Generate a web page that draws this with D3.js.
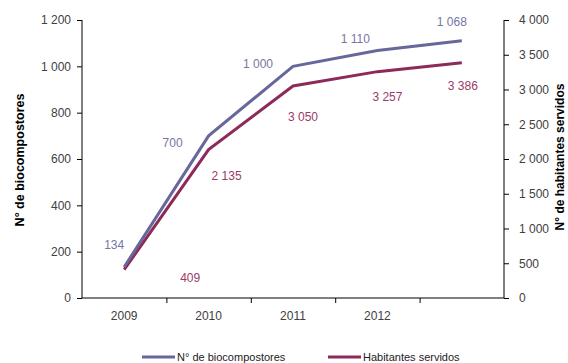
<!DOCTYPE html>
<html><head><meta charset="utf-8">
<script src="https://cdn.jsdelivr.net/npm/d3@7"></script>
<style>body{margin:0;background:#fff;} text{font-family:"Liberation Sans",Arial,sans-serif;}</style>
</head><body>
<svg id="c" width="568" height="363"></svg>
<script>
const categories = ["2009", "2010", "2011", "2012", ""];
const biocompostores = [134, 700, 1000, 1068, 1110];
const biocompostoresLabels = ["134", "700", "1 000", "1 110", "1 068"];
const habitantes = [409, 2135, 3050, 3257, 3386];
const habitantesLabels = ["409", "2 135", "3 050", "3 257", "3 386"];
const leftTicks = [0, 200, 400, 600, 800, 1000, 1200];
const rightTicks = [0, 500, 1000, 1500, 2000, 2500, 3000, 3500, 4000];

const blueLine = "#67679b", purpleLine = "#8c2a5a";
const blueText = "#7676a6", purpleText = "#9b3a6a";
const axisText = "#404040";

const svg = d3.select("#c");
const L = 82, R = 504, T = 20, B = 298;
const x = d3.scaleBand().domain(categories).range([L, R]).padding(0);
const yL = d3.scaleLinear().domain([0, 1200]).range([B, T]);
const yR = d3.scaleLinear().domain([0, 4000]).range([B, T]);
const fmt = d3.formatLocale({decimal: ",", thousands: " ", grouping: [3], currency: ["", ""]}).format(",d");

// left axis
const gl = svg.append("g").attr("transform", `translate(${L},0)`)
  .call(d3.axisLeft(yL).tickValues(leftTicks).tickFormat(fmt).tickSize(5).tickPadding(6));
// right axis
const gr = svg.append("g").attr("transform", `translate(${R},0)`)
  .call(d3.axisRight(yR).tickValues(rightTicks).tickFormat(fmt).tickSize(5).tickPadding(10));
// bottom axis (ticks at band boundaries)
const bounds = categories.map(c => x(c) + x.bandwidth()).slice(0, -1);
const xb = d3.scaleLinear().domain([L, R]).range([L, R]);
const gb = svg.append("g").attr("transform", `translate(0,${B})`)
  .call(d3.axisBottom(xb).tickValues(bounds).tickFormat("").tickSize(5));
[gl, gr, gb].forEach(g => {
  g.select(".domain").remove();
  g.selectAll(".tick line").attr("stroke", "#000");
  g.selectAll("text").attr("fill", axisText).style("font-size", "12px").style("font-family", "Liberation Sans, Arial, sans-serif");
});
svg.append("line").attr("x1", L).attr("x2", L).attr("y1", yL(1200)).attr("y2", B).attr("stroke", "#000");
svg.append("line").attr("x1", R).attr("x2", R).attr("y1", yR(4000)).attr("y2", B).attr("stroke", "#000");
svg.append("line").attr("x1", L).attr("x2", R).attr("y1", B).attr("y2", B).attr("stroke", "#000");

// category labels
svg.append("g").selectAll("text").data(categories).join("text")
  .attr("x", d => x(d) + x.bandwidth() / 2).attr("y", B + 22)
  .attr("text-anchor", "middle").attr("fill", axisText).style("font-size", "12px").text(d => d);

const cx = (d, i) => x(categories[i]) + x.bandwidth() / 2;
svg.append("path").datum(habitantes)
  .attr("d", d3.line().x(cx).y(d => yR(d)))
  .attr("fill", "none").attr("stroke", purpleLine).attr("stroke-width", 3);
svg.append("path").datum(biocompostores)
  .attr("d", d3.line().x(cx).y(d => yL(d)))
  .attr("fill", "none").attr("stroke", blueLine).attr("stroke-width", 3);

// data labels (offsets from points)
const blueOff = [[-10, -18], [-36, 11], [-35, 2], [-22, -8], [-10, -15]];
const purpleOff = [[66, 12], [18, 30], [10, 35], [10, 29], [1, 27]];
svg.append("g").selectAll("text").data(biocompostores).join("text")
  .attr("x", (d, i) => cx(d, i) + blueOff[i][0]).attr("y", (d, i) => yL(d) + blueOff[i][1])
  .attr("text-anchor", "middle").attr("fill", blueText).style("font-size", "12px")
  .text((d, i) => biocompostoresLabels[i]);
svg.append("g").selectAll("text").data(habitantes).join("text")
  .attr("x", (d, i) => cx(d, i) + purpleOff[i][0]).attr("y", (d, i) => yR(d) + purpleOff[i][1])
  .attr("text-anchor", "middle").attr("fill", purpleText).style("font-size", "12px")
  .text((d, i) => habitantesLabels[i]);

// axis titles
svg.append("text").attr("transform", `translate(24,160) rotate(-90)`)
  .attr("text-anchor", "middle").style("font-size", "12.5px").style("font-weight", "bold")
  .attr("fill", "#000").text("N° de biocompostores");
svg.append("text").attr("transform", `translate(564,157) rotate(-90)`)
  .attr("text-anchor", "middle").style("font-size", "12px").style("font-weight", "bold")
  .attr("fill", "#000").text("N° de habitantes servidos");

// legend
const legend = [["N° de biocompostores", blueLine, 142], ["Habitantes servidos", purpleLine, 328]];
const lg = svg.append("g").selectAll("g").data(legend).join("g");
lg.append("line").attr("x1", d => d[2]).attr("x2", d => d[2] + 33).attr("y1", 357).attr("y2", 357)
  .attr("stroke", d => d[1]).attr("stroke-width", 3);
lg.append("text").attr("x", d => d[2] + 35).attr("y", 361).style("font-size", "11px")
  .attr("fill", "#222").text(d => d[0]);
</script>
</body></html>
